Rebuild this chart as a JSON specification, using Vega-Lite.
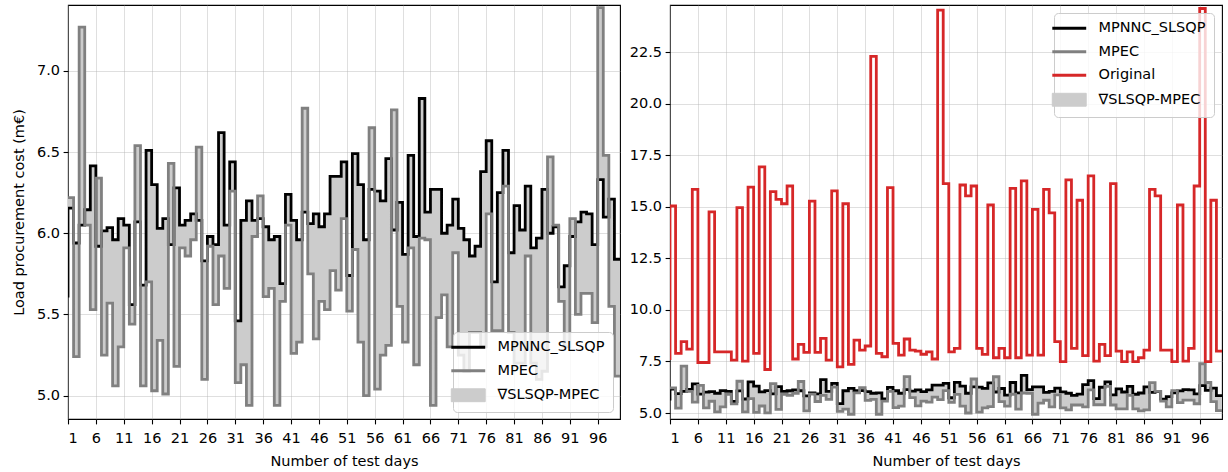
{
  "$schema": "https://vega.github.io/schema/vega-lite/v6.json",
  "background": "white",
  "padding": {"left": 10, "top": 4, "right": 5, "bottom": 5},
  "bounds": "flush",
  "spacing": 50,
  "config": {
    "font": "DejaVu Sans",
    "view": {"stroke": "black", "strokeWidth": 1.1},
    "axis": {
      "labelFont": "DejaVu Sans", "labelFontSize": 14.5, "labelColor": "black",
      "titleFont": "DejaVu Sans", "titleFontSize": 14.5, "titleFontWeight": "normal", "titleColor": "black",
      "tickColor": "black", "tickSize": 4.9, "tickWidth": 1.1, "labelPadding": 3.5,
      "domain": false, "grid": true, "gridColor": "#b0b0b0", "gridOpacity": 0.4, "gridWidth": 1
    },
    "legend": {
      "title": null, "symbolType": "stroke", "symbolSize": 1150, "symbolStrokeWidth": 2.8,
      "labelFont": "DejaVu Sans", "labelFontSize": 14.5, "labelColor": "black", "labelOffset": 22,
      "rowPadding": 8.5, "padding": 8, "fillColor": "rgba(255,255,255,0.8)", "strokeColor": "#cccccc",
      "cornerRadius": 4
    }
  },
  "resolve": {"scale": {"color": "independent"}, "legend": {"color": "independent"}},
  "datasets": {
    "d": [
      {"day": 1, "MPNNC_SLSQP": 5.605, "MPEC": 6.22, "Original": 7.57},
      {"day": 2, "MPNNC_SLSQP": 6.155, "MPEC": 6.22, "Original": 15.04},
      {"day": 3, "MPNNC_SLSQP": 5.94, "MPEC": 5.24, "Original": 7.89},
      {"day": 4, "MPNNC_SLSQP": 6.05, "MPEC": 7.27, "Original": 8.46},
      {"day": 5, "MPNNC_SLSQP": 6.145, "MPEC": 6.05, "Original": 8.10},
      {"day": 6, "MPNNC_SLSQP": 6.415, "MPEC": 5.53, "Original": 15.85},
      {"day": 7, "MPNNC_SLSQP": 5.92, "MPEC": 6.34, "Original": 7.45},
      {"day": 8, "MPNNC_SLSQP": 6.015, "MPEC": 5.25, "Original": 7.45},
      {"day": 9, "MPNNC_SLSQP": 6.035, "MPEC": 5.57, "Original": 14.76},
      {"day": 10, "MPNNC_SLSQP": 5.96, "MPEC": 5.06, "Original": 7.97},
      {"day": 11, "MPNNC_SLSQP": 6.09, "MPEC": 5.30, "Original": 7.97},
      {"day": 12, "MPNNC_SLSQP": 6.05, "MPEC": 5.91, "Original": 7.97},
      {"day": 13, "MPNNC_SLSQP": 5.56, "MPEC": 5.44, "Original": 7.57},
      {"day": 14, "MPNNC_SLSQP": 6.07, "MPEC": 6.54, "Original": 14.96},
      {"day": 15, "MPNNC_SLSQP": 5.68, "MPEC": 5.06, "Original": 7.52},
      {"day": 16, "MPNNC_SLSQP": 6.51, "MPEC": 5.70, "Original": 15.96},
      {"day": 17, "MPNNC_SLSQP": 6.30, "MPEC": 5.03, "Original": 7.89},
      {"day": 18, "MPNNC_SLSQP": 6.03, "MPEC": 5.34, "Original": 16.94},
      {"day": 19, "MPNNC_SLSQP": 6.09, "MPEC": 5.01, "Original": 7.11},
      {"day": 20, "MPNNC_SLSQP": 5.93, "MPEC": 6.43, "Original": 15.74},
      {"day": 21, "MPNNC_SLSQP": 6.28, "MPEC": 5.18, "Original": 15.36},
      {"day": 22, "MPNNC_SLSQP": 6.05, "MPEC": 5.91, "Original": 15.15},
      {"day": 23, "MPNNC_SLSQP": 6.08, "MPEC": 5.86, "Original": 16.01},
      {"day": 24, "MPNNC_SLSQP": 6.12, "MPEC": 5.96, "Original": 7.62},
      {"day": 25, "MPNNC_SLSQP": 6.08, "MPEC": 6.53, "Original": 8.33},
      {"day": 26, "MPNNC_SLSQP": 5.83, "MPEC": 5.10, "Original": 7.94},
      {"day": 27, "MPNNC_SLSQP": 5.98, "MPEC": 5.92, "Original": 15.28},
      {"day": 28, "MPNNC_SLSQP": 5.93, "MPEC": 5.56, "Original": 7.94},
      {"day": 29, "MPNNC_SLSQP": 6.62, "MPEC": 5.86, "Original": 8.62},
      {"day": 30, "MPNNC_SLSQP": 6.05, "MPEC": 5.66, "Original": 7.57},
      {"day": 31, "MPNNC_SLSQP": 6.44, "MPEC": 6.26, "Original": 15.77},
      {"day": 32, "MPNNC_SLSQP": 5.46, "MPEC": 5.08, "Original": 7.24},
      {"day": 33, "MPNNC_SLSQP": 6.08, "MPEC": 5.19, "Original": 15.15},
      {"day": 34, "MPNNC_SLSQP": 6.20, "MPEC": 4.94, "Original": 7.36},
      {"day": 35, "MPNNC_SLSQP": 6.08, "MPEC": 5.98, "Original": 8.54},
      {"day": 36, "MPNNC_SLSQP": 6.09, "MPEC": 6.23, "Original": 8.05},
      {"day": 37, "MPNNC_SLSQP": 6.04, "MPEC": 5.61, "Original": 8.25},
      {"day": 38, "MPNNC_SLSQP": 5.96, "MPEC": 5.66, "Original": 22.30},
      {"day": 39, "MPNNC_SLSQP": 5.98, "MPEC": 4.94, "Original": 7.89},
      {"day": 40, "MPNNC_SLSQP": 5.69, "MPEC": 5.58, "Original": 7.73},
      {"day": 41, "MPNNC_SLSQP": 6.24, "MPEC": 6.05, "Original": 15.93},
      {"day": 42, "MPNNC_SLSQP": 6.08, "MPEC": 5.26, "Original": 8.38},
      {"day": 43, "MPNNC_SLSQP": 5.96, "MPEC": 5.33, "Original": 7.81},
      {"day": 44, "MPNNC_SLSQP": 6.13, "MPEC": 6.77, "Original": 8.59},
      {"day": 45, "MPNNC_SLSQP": 6.06, "MPEC": 5.75, "Original": 8.05},
      {"day": 46, "MPNNC_SLSQP": 6.12, "MPEC": 5.35, "Original": 8.00},
      {"day": 47, "MPNNC_SLSQP": 6.04, "MPEC": 5.58, "Original": 7.85},
      {"day": 48, "MPNNC_SLSQP": 6.12, "MPEC": 5.53, "Original": 7.97},
      {"day": 49, "MPNNC_SLSQP": 6.35, "MPEC": 5.77, "Original": 7.62},
      {"day": 50, "MPNNC_SLSQP": 6.35, "MPEC": 5.65, "Original": 24.54},
      {"day": 51, "MPNNC_SLSQP": 6.44, "MPEC": 6.09, "Original": 16.13},
      {"day": 52, "MPNNC_SLSQP": 5.74, "MPEC": 5.52, "Original": 7.97},
      {"day": 53, "MPNNC_SLSQP": 6.49, "MPEC": 5.90, "Original": 8.14},
      {"day": 54, "MPNNC_SLSQP": 6.30, "MPEC": 5.33, "Original": 16.06},
      {"day": 55, "MPNNC_SLSQP": 5.96, "MPEC": 5.00, "Original": 15.53},
      {"day": 56, "MPNNC_SLSQP": 6.27, "MPEC": 6.65, "Original": 16.01},
      {"day": 57, "MPNNC_SLSQP": 6.26, "MPEC": 5.04, "Original": 8.14},
      {"day": 58, "MPNNC_SLSQP": 6.20, "MPEC": 5.25, "Original": 7.84},
      {"day": 59, "MPNNC_SLSQP": 6.46, "MPEC": 5.31, "Original": 15.09},
      {"day": 60, "MPNNC_SLSQP": 6.02, "MPEC": 6.76, "Original": 7.68},
      {"day": 61, "MPNNC_SLSQP": 6.19, "MPEC": 5.55, "Original": 8.14},
      {"day": 62, "MPNNC_SLSQP": 5.87, "MPEC": 5.33, "Original": 7.68},
      {"day": 63, "MPNNC_SLSQP": 6.48, "MPEC": 5.91, "Original": 15.90},
      {"day": 64, "MPNNC_SLSQP": 5.98, "MPEC": 5.19, "Original": 7.68},
      {"day": 65, "MPNNC_SLSQP": 6.83, "MPEC": 5.97, "Original": 16.26},
      {"day": 66, "MPNNC_SLSQP": 6.13, "MPEC": 5.96, "Original": 7.81},
      {"day": 67, "MPNNC_SLSQP": 6.27, "MPEC": 4.94, "Original": 14.88},
      {"day": 68, "MPNNC_SLSQP": 6.27, "MPEC": 5.48, "Original": 7.81},
      {"day": 69, "MPNNC_SLSQP": 6.00, "MPEC": 5.62, "Original": 15.85},
      {"day": 70, "MPNNC_SLSQP": 6.05, "MPEC": 5.30, "Original": 14.71},
      {"day": 71, "MPNNC_SLSQP": 6.21, "MPEC": 5.88, "Original": 8.46},
      {"day": 72, "MPNNC_SLSQP": 6.03, "MPEC": 5.25, "Original": 7.49},
      {"day": 73, "MPNNC_SLSQP": 5.96, "MPEC": 5.15, "Original": 16.31},
      {"day": 74, "MPNNC_SLSQP": 5.86, "MPEC": 5.39, "Original": 8.14},
      {"day": 75, "MPNNC_SLSQP": 5.92, "MPEC": 5.39, "Original": 15.32},
      {"day": 76, "MPNNC_SLSQP": 6.38, "MPEC": 5.30, "Original": 7.78},
      {"day": 77, "MPNNC_SLSQP": 6.57, "MPEC": 6.12, "Original": 16.50},
      {"day": 78, "MPNNC_SLSQP": 5.70, "MPEC": 5.40, "Original": 7.52},
      {"day": 79, "MPNNC_SLSQP": 6.25, "MPEC": 5.40, "Original": 8.33},
      {"day": 80, "MPNNC_SLSQP": 6.51, "MPEC": 6.29, "Original": 7.78},
      {"day": 81, "MPNNC_SLSQP": 5.88, "MPEC": 5.39, "Original": 16.13},
      {"day": 82, "MPNNC_SLSQP": 6.17, "MPEC": 5.20, "Original": 8.00},
      {"day": 83, "MPNNC_SLSQP": 6.02, "MPEC": 5.20, "Original": 7.49},
      {"day": 84, "MPNNC_SLSQP": 6.29, "MPEC": 5.86, "Original": 7.97},
      {"day": 85, "MPNNC_SLSQP": 5.91, "MPEC": 5.20, "Original": 7.49},
      {"day": 86, "MPNNC_SLSQP": 5.97, "MPEC": 5.10, "Original": 7.68},
      {"day": 87, "MPNNC_SLSQP": 6.27, "MPEC": 5.15, "Original": 8.05},
      {"day": 88, "MPNNC_SLSQP": 6.00, "MPEC": 6.47, "Original": 15.85},
      {"day": 89, "MPNNC_SLSQP": 6.04, "MPEC": 6.05, "Original": 15.53},
      {"day": 90, "MPNNC_SLSQP": 5.67, "MPEC": 5.58, "Original": 8.05},
      {"day": 91, "MPNNC_SLSQP": 5.80, "MPEC": 5.30, "Original": 8.05},
      {"day": 92, "MPNNC_SLSQP": 5.98, "MPEC": 6.09, "Original": 7.49},
      {"day": 93, "MPNNC_SLSQP": 6.07, "MPEC": 5.50, "Original": 15.09},
      {"day": 94, "MPNNC_SLSQP": 6.13, "MPEC": 5.63, "Original": 7.52},
      {"day": 95, "MPNNC_SLSQP": 6.12, "MPEC": 5.63, "Original": 8.14},
      {"day": 96, "MPNNC_SLSQP": 5.93, "MPEC": 5.45, "Original": 16.01},
      {"day": 97, "MPNNC_SLSQP": 6.33, "MPEC": 7.39, "Original": 24.62},
      {"day": 98, "MPNNC_SLSQP": 6.10, "MPEC": 6.48, "Original": 7.49},
      {"day": 99, "MPNNC_SLSQP": 6.21, "MPEC": 5.55, "Original": 15.32},
      {"day": 100, "MPNNC_SLSQP": 5.84, "MPEC": 5.12, "Original": 8.00}
    ]
  },
  "hconcat": [
    {
      "width": 552,
      "height": 414,
      "data": {"name": "d"},
      "encoding": {
        "x": {
          "field": "day", "type": "quantitative",
          "scale": {"domain": [1, 100], "nice": false, "zero": false},
          "axis": {"values": [1, 6, 11, 16, 21, 26, 31, 36, 41, 46, 51, 56, 61, 66, 71, 76, 81, 86, 91, 96], "title": "Number of test days", "labelPadding": 8, "titlePadding": 9}
        }
      },
      "layer": [
        {
          "mark": {"type": "area", "interpolate": "step-before", "clip": true},
          "encoding": {
            "y": {
              "field": "MPNNC_SLSQP", "type": "quantitative",
              "scale": {"domain": [4.856, 7.406], "nice": false, "zero": false},
              "axis": {"values": [5.0, 5.5, 6.0, 6.5, 7.0], "format": ".1f", "title": "Load procurement cost (m€)", "titlePadding": 10}
            },
            "y2": {"field": "MPEC"},
            "color": {
              "datum": "∇SLSQP-MPEC", "type": "nominal",
              "scale": {"domain": ["MPNNC_SLSQP", "MPEC", "∇SLSQP-MPEC"], "range": ["black", "gray", "#cccccc"]},
              "legend": {
                "orient": "bottom-right", "offset": 7,
                "encode": {
                  "symbols": {
                    "update": {
                      "shape": {"signal": "datum.value === '∇SLSQP-MPEC' ? 'M-1,-0.38H1V0.38H-1Z' : 'stroke'"},
                      "fill": {"signal": "datum.value === '∇SLSQP-MPEC' ? '#cccccc' : 'transparent'"},
                      "stroke": {"signal": "datum.value === 'MPNNC_SLSQP' ? 'black' : datum.value === 'MPEC' ? 'gray' : '#a0a0a0'"},
                      "strokeWidth": {"signal": "datum.value === '∇SLSQP-MPEC' ? 1 : 2.8"},
                      "opacity": {"value": 1}
                    }
                  }
                }
              }
            }
          }
        },
        {
          "mark": {"type": "line", "interpolate": "step-before", "strokeWidth": 2.8, "clip": true},
          "encoding": {
            "y": {"field": "MPNNC_SLSQP", "type": "quantitative"},
            "color": {"datum": "MPNNC_SLSQP", "type": "nominal"}
          }
        },
        {
          "mark": {"type": "line", "interpolate": "step-before", "strokeWidth": 2.8, "clip": true},
          "encoding": {
            "y": {"field": "MPEC", "type": "quantitative"},
            "color": {"datum": "MPEC", "type": "nominal"}
          }
        }
      ]
    },
    {
      "width": 552,
      "height": 414,
      "data": {"name": "d"},
      "encoding": {
        "x": {
          "field": "day", "type": "quantitative",
          "scale": {"domain": [1, 100], "nice": false, "zero": false},
          "axis": {"values": [1, 6, 11, 16, 21, 26, 31, 36, 41, 46, 51, 56, 61, 66, 71, 76, 81, 86, 91, 96], "title": "Number of test days", "labelPadding": 8, "titlePadding": 9}
        }
      },
      "layer": [
        {
          "mark": {"type": "area", "interpolate": "step-before", "clip": true},
          "encoding": {
            "y": {
              "field": "MPNNC_SLSQP", "type": "quantitative",
              "scale": {"domain": [4.71, 24.79], "nice": false, "zero": false},
              "axis": {"values": [5.0, 7.5, 10.0, 12.5, 15.0, 17.5, 20.0, 22.5], "format": ".1f", "title": null}
            },
            "y2": {"field": "MPEC"},
            "color": {
              "datum": "∇SLSQP-MPEC", "type": "nominal",
              "scale": {"domain": ["MPNNC_SLSQP", "MPEC", "Original", "∇SLSQP-MPEC"], "range": ["black", "gray", "#d62728", "#cccccc"]},
              "legend": {
                "orient": "top-right", "offset": 8,
                "encode": {
                  "symbols": {
                    "update": {
                      "shape": {"signal": "datum.value === '∇SLSQP-MPEC' ? 'M-1,-0.38H1V0.38H-1Z' : 'stroke'"},
                      "fill": {"signal": "datum.value === '∇SLSQP-MPEC' ? '#cccccc' : 'transparent'"},
                      "stroke": {"signal": "datum.value === 'MPNNC_SLSQP' ? 'black' : datum.value === 'MPEC' ? 'gray' : datum.value === 'Original' ? '#d62728' : '#a0a0a0'"},
                      "strokeWidth": {"signal": "datum.value === '∇SLSQP-MPEC' ? 1 : 2.8"},
                      "opacity": {"value": 1}
                    }
                  }
                }
              }
            }
          }
        },
        {
          "mark": {"type": "line", "interpolate": "step-before", "strokeWidth": 2.8, "clip": true},
          "encoding": {
            "y": {"field": "MPNNC_SLSQP", "type": "quantitative"},
            "color": {"datum": "MPNNC_SLSQP", "type": "nominal"}
          }
        },
        {
          "mark": {"type": "line", "interpolate": "step-before", "strokeWidth": 2.8, "clip": true},
          "encoding": {
            "y": {"field": "MPEC", "type": "quantitative"},
            "color": {"datum": "MPEC", "type": "nominal"}
          }
        },
        {
          "mark": {"type": "line", "interpolate": "step-before", "strokeWidth": 2.8, "clip": true},
          "encoding": {
            "y": {"field": "Original", "type": "quantitative"},
            "color": {"datum": "Original", "type": "nominal"}
          }
        }
      ]
    }
  ]
}
